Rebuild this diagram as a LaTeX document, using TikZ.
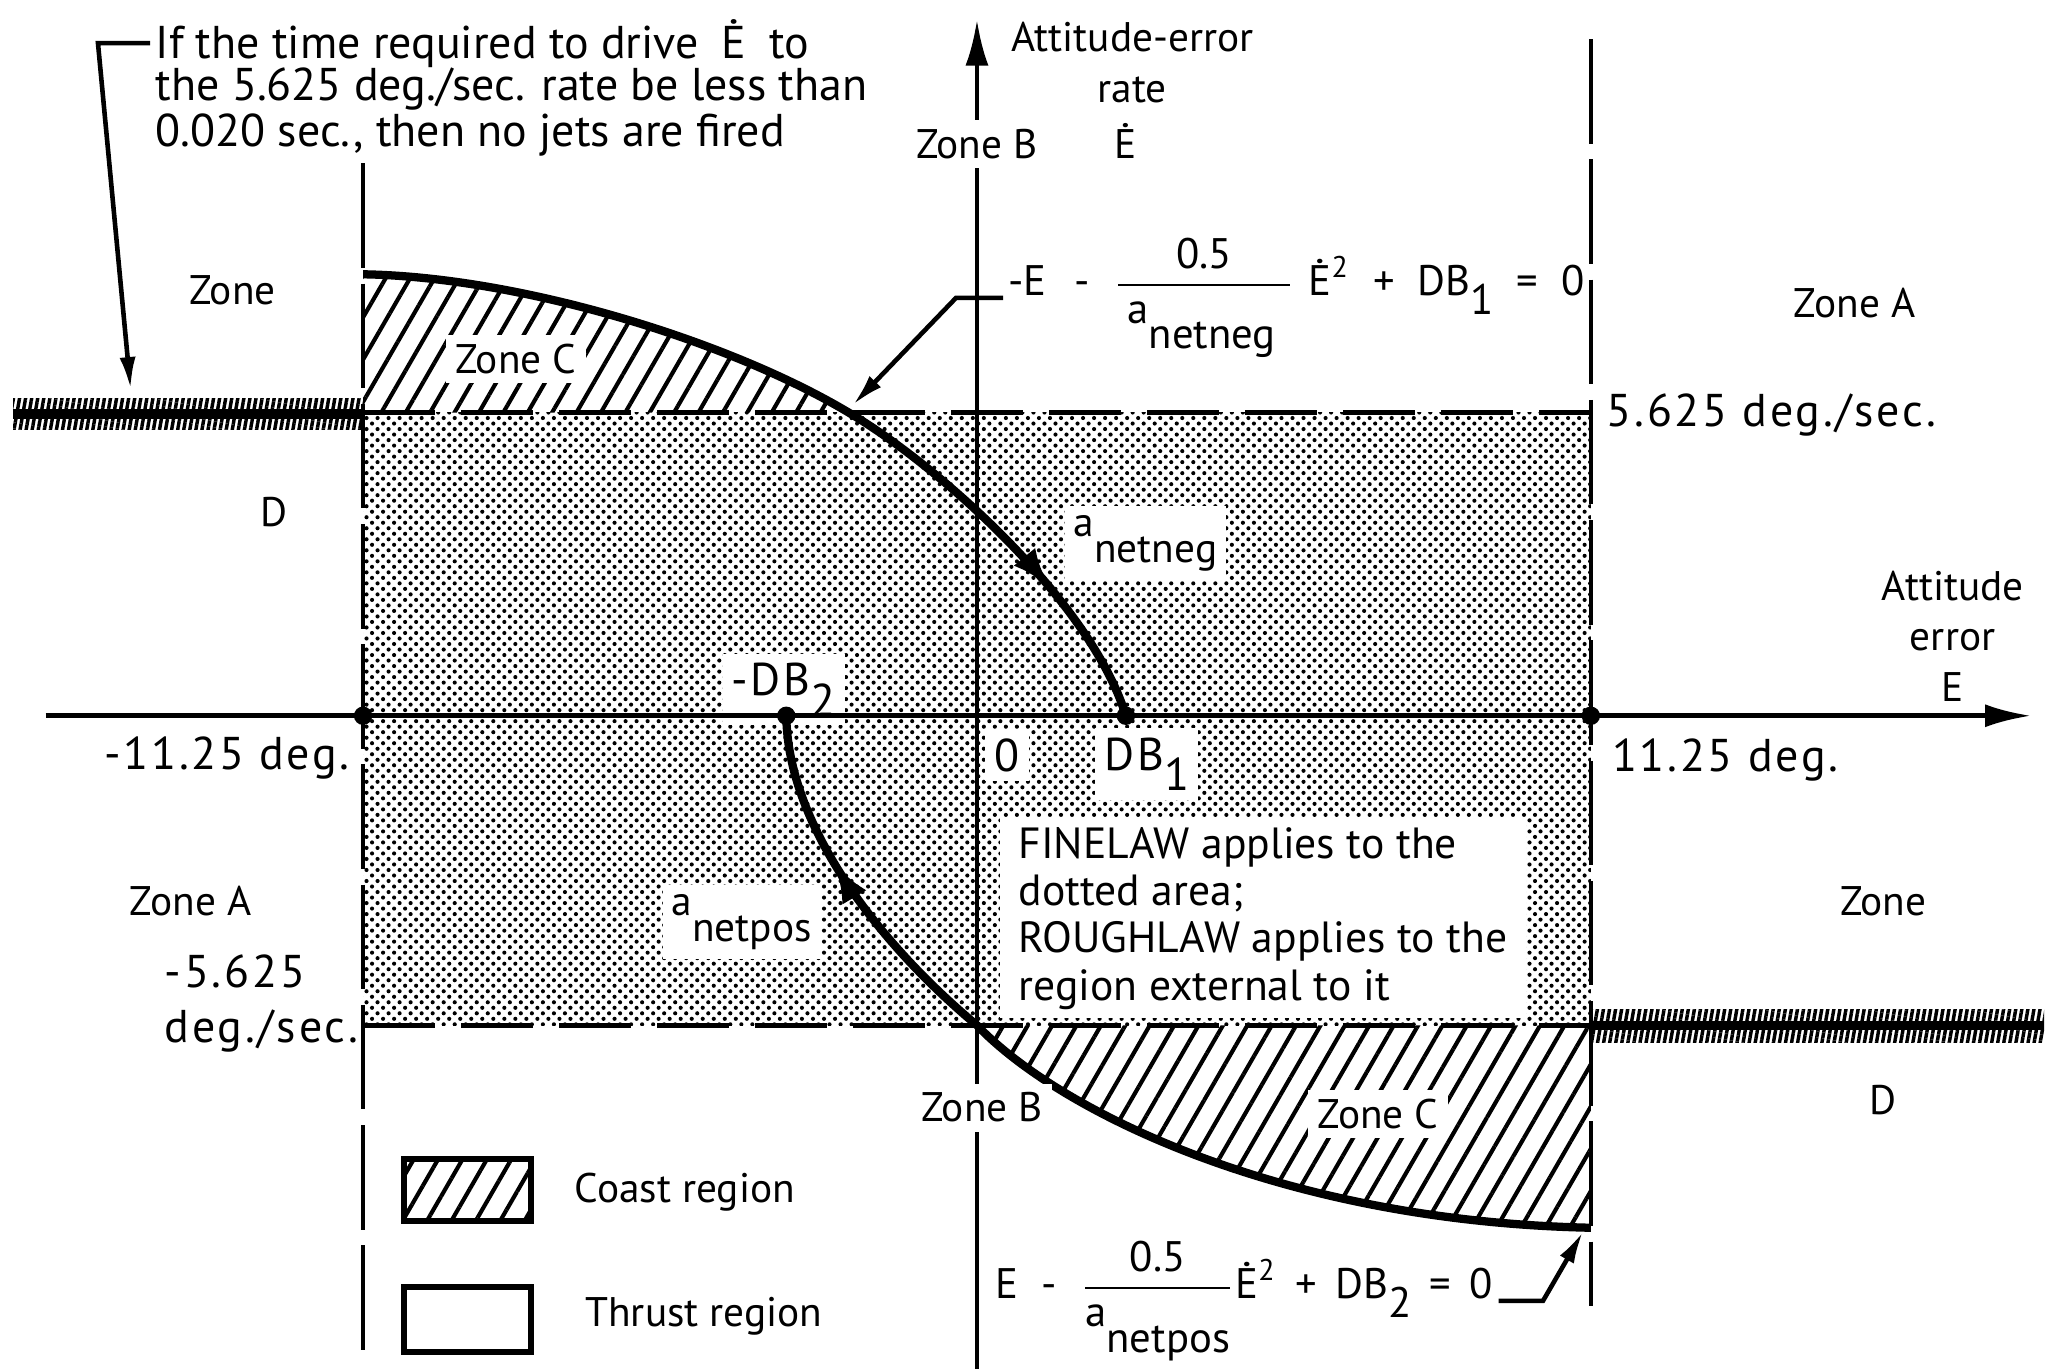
\documentclass[tikz,border=0pt]{standalone}
\usepackage{fontspec}
\setmainfont{PT Sans}
\newfontfamily\widefont[LetterSpace=6]{PT Sans}
\usetikzlibrary{patterns,patterns.meta,arrows.meta,decorations.markings}
\pgfdeclarepatternformonly{halftone}{\pgfqpoint{-0.1pt}{-0.1pt}}{\pgfqpoint{2.5pt}{2.5pt}}{\pgfqpoint{2.4pt}{2.4pt}}{%
  \pgfpathcircle{\pgfqpoint{0.6pt}{0.6pt}}{0.45pt}%
  \pgfpathcircle{\pgfqpoint{1.8pt}{1.8pt}}{0.45pt}%
  \pgfusepath{fill}}
\begin{document}
\begin{tikzpicture}[x=0.01cm,y=-0.01cm,
  font=\fontsize{9}{10}\selectfont,
  axisline/.style={line width=1pt},
  hbound/.style={line width=1.1pt, dash pattern=on 0.55cm off 0.2cm},
  vbound/.style={line width=1pt, dash pattern=on 0.8cm off 0.12cm},
  traj/.style={line width=1.8pt},
  coast/.style={pattern={Lines[angle=60,distance=4.6pt,line width=0.9pt]}},
  dense/.style={pattern={Lines[angle=80,distance=1.3pt,line width=0.75pt]}},
  lbl/.style={inner sep=1pt},
  notelbl/.style={inner sep=1pt, font=\fontsize{10}{10}\selectfont},
  numlbl/.style={inner sep=1pt, font=\widefont\fontsize{10}{11}\selectfont},
  eqlbl/.style={inner sep=1pt, font=\fontsize{9.3}{11}\selectfont},
  wlbl/.style={fill=white, inner sep=2pt},
  axdot/.style={circle, fill, inner sep=0pt, minimum size=4pt},
  tip/.style={-{Latex[length=7pt,width=3.5pt]}},
  legbox/.style={draw, line width=1.3pt, minimum width=0.97cm, minimum height=0.48cm, inner sep=0pt}]

\useasboundingbox (0,0) rectangle (1568,1048);

% dotted FINELAW region
\fill[pattern=halftone] (278,316) rectangle (1218,785);

% coast (hatched) regions
\path[coast] (278,316) -- (278,210) .. controls (400,212) and (560,262) .. (650,316) -- cycle;
\path[coast] (748,785) .. controls (810,850) and (980,935) .. (1218,940) -- (1218,785) -- cycle;

% dense hatched bars
\path[dense] (10,305) rectangle (278,329);
\draw[line width=2pt] (10,317) -- (278,317);
\path[dense] (1218,773) rectangle (1565,798);
\draw[line width=2pt] (1218,785) -- (1565,785);

% white-backed labels under the lines
\node[wlbl] (zoneCU) at (395,275) {Zone C};
\node[wlbl] (zoneCL) at (1055,853) {Zone C};
\node[wlbl, font=\widefont] (zero) at (771,578) {0};
\node[wlbl, font=\widefont] (lDB1) at (878,585) {DB\raisebox{-0.9ex}{1}};
\node[wlbl, font=\widefont, anchor=south] (lDB2) at (600,556) {-DB\raisebox{-0.9ex}{2}};
\node[wlbl] (anetneg) at (877,416) {a\raisebox{-1.3ex}{netneg}};
\node[wlbl] (anetpos) at (568,706) {a\raisebox{-1.3ex}{netpos}};
\node[wlbl, align=left, inner xsep=4pt, inner ysep=2pt, font=\fontsize{9.5}{10.3}\selectfont] (finelaw) at (967,703)
  {FINELAW applies to the\\ dotted area;\\ ROUGHLAW applies to the\\ region external to it};

% boundaries
\draw[hbound] (278,316) -- (1218,316);
\draw[hbound] (278,785) -- (1218,785);
\draw[vbound] (278,125) -- (278,1040);
\draw[vbound] (1218,30) -- (1218,1000);

% axes
\coordinate (exl) at (35,548);
\coordinate (exr) at (1555,548);
\coordinate (eyb) at (748,1048);
\coordinate (eyt) at (748,15);
\draw[axisline, -{Latex[length=10pt,width=5pt]}] (exl) -- (exr);
\draw[axisline, -{Latex[length=10pt,width=5pt]}] (eyb) -- (eyt);

% switching curves
\draw[traj, postaction={decorate}, decoration={markings, mark=at position 0.84 with {\arrow{Latex[length=9pt,width=6pt]}}}]
  (278,210) .. controls (400,212) and (560,262) .. (650,316)
            .. controls (718,356) and (835,460) .. (862,548);
\draw[traj, postaction={decorate}, decoration={markings, mark=at position 0.15 with {\arrowreversed{Latex[length=9pt,width=6pt]}}}]
  (602,548) .. controls (603,630) and (670,720) .. (748,785)
            .. controls (810,850) and (980,935) .. (1218,940);

% dots on the E axis
\node[axdot] (dL) at (278,548) {};
\node[axdot] (dDB2) at (602,548) {};
\node[axdot] (dDB1) at (862,548) {};
\node[axdot] (dR) at (1218,548) {};

% labels that interrupt the rate axis
\node[wlbl] (zoneBtop) at (748,110) {Zone B};
\node[wlbl] (zoneBbot) at (752,848) {Zone B};

% note at top left
\node[notelbl, anchor=west] (note1) at (115,33) {If the time required to drive\enspace\.{E}\enspace to};
\node[notelbl, anchor=west] (note2) at (115,68) {the 5.625 deg./sec. rate be less than};
\node[notelbl, anchor=west] (note3) at (115,103) {0.020 sec., then no jets are fired};
\coordinate (barL) at (100,298);
\draw[line width=1pt, tip] (note1.west) -- ++(-40,0) -- (barL);

% axis titles
\node[lbl, align=center] (ytitle) at (867,48) {Attitude-error\\[1pt] rate};
\node[lbl] (edot) at (862,108) {\.{E}};
\node[lbl, align=center] (etitle) at (1495,487) {Attitude\\[1pt] error\\[1pt] E};

% zone labels
\node[lbl] (zoneTL) at (178,222) {Zone};
\node[lbl] (dTL) at (210,392) {D};
\node[lbl] (zoneAR) at (1420,232) {Zone A};
\node[lbl] (zoneAL) at (146,690) {Zone A};
\node[lbl] (zoneR) at (1442,690) {Zone};
\node[lbl] (dR2) at (1442,842) {D};

% value labels
\node[numlbl, anchor=west] (rateU) at (1226,318) {5.625 deg./sec.};
\node[numlbl, anchor=east] (m1125) at (272,580) {-11.25 deg.};
\node[numlbl, anchor=west] (p1125) at (1230,582) {11.25 deg.};
\node[numlbl, anchor=west, align=left] (rateL) at (122,768) {-5.625\\[1pt] deg./sec.};

% equations
\node[eqlbl, anchor=west] (eqU) at (768,228)
  {-E\hspace{6pt}-\hspace{5pt}$\displaystyle\frac{\mbox{0.5}}{\mbox{\hspace{2pt}a\raisebox{-1.2ex}{netneg}\hspace{3pt}}}$\hspace{3pt}\.{E}\textsuperscript{2}\hspace{5pt}+\hspace{5pt}DB\raisebox{-0.9ex}{1}\hspace{5pt}=\hspace{5pt}0};
\coordinate (capU) at (653,310);
\draw[line width=1pt, tip] (eqU.west) -- ++(-36,0) -- (capU);

\node[eqlbl, anchor=west] (eqL) at (758,996)
  {E\hspace{5pt}-\hspace{5pt}$\displaystyle\frac{\mbox{0.5}}{\mbox{a\raisebox{-1.2ex}{netpos}}}$\.{E}\textsuperscript{2}\hspace{4pt}+\hspace{4pt}DB\raisebox{-0.9ex}{2}\hspace{4pt}=\hspace{4pt}0};
\coordinate (capL) at (1212,943);
\draw[line width=1pt, tip] (eqL.east) -- ++(34,0) -- (capL);

% legend
\node[legbox, coast] (coastbox) at (358,911) {};
\node[lbl, anchor=west] (coastlbl) at (436,913) {Coast region};
\node[legbox, minimum height=0.5cm] (thrustbox) at (358,1010) {};
\node[lbl, anchor=west] (thrustlbl) at (444,1008) {Thrust region};
\end{tikzpicture}
\end{document}
